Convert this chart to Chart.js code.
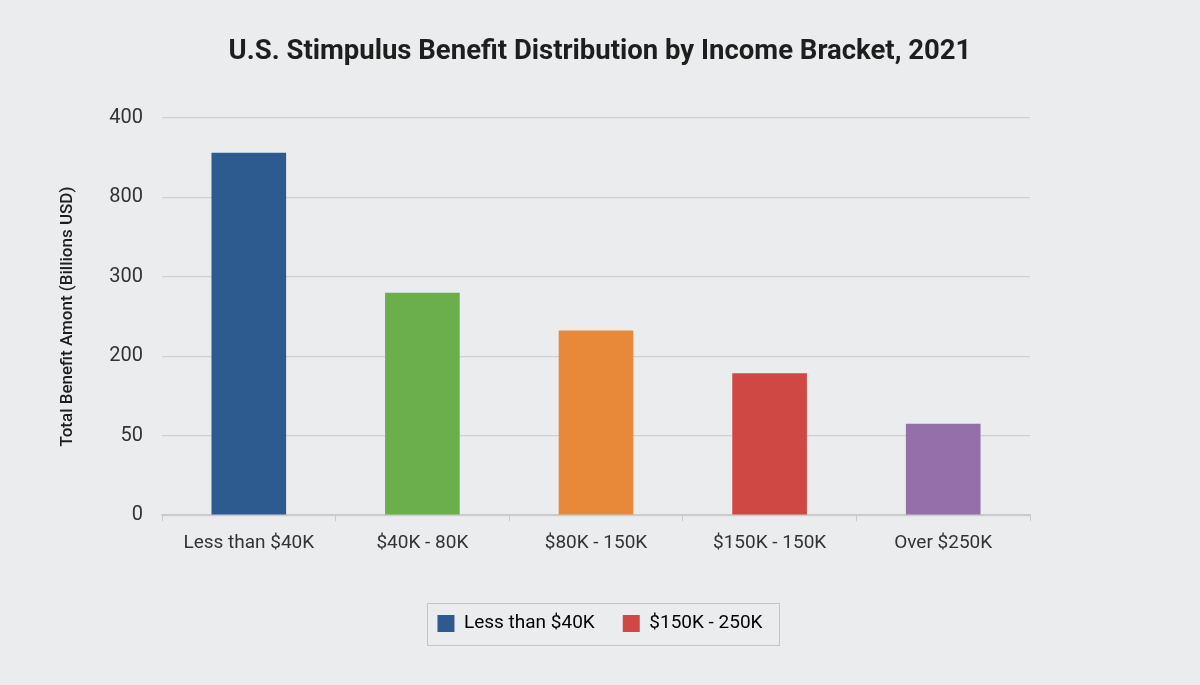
<!DOCTYPE html>
<html>
<head>
<meta charset="utf-8">
<script src="https://cdn.jsdelivr.net/npm/chart.js@4/dist/chart.umd.min.js"></script>
<style>
  html, body { margin: 0; padding: 0; background: #ebeced; }
  #wrap { width: 1200px; height: 685px; }
</style>
</head>
<body>
<div id="wrap"><canvas id="chart" width="1200" height="685"></canvas></div>
<script>
// data (bar heights in axis px-units, 80 per gridline)
const categories = ['Less than $40K', '$40K - 80K', '$80K - 150K', '$150K - 150K', 'Over $250K'];
const benefitValues = [365, 224, 186, 143, 92];
const barColors = ['#2e5b8f', '#6aaf4b', '#e8893a', '#d04844', '#9470a8'];
const yTickLabels = ['0', '50', '200', '300', '800', '400'];
const legendNames = ['Less than $40K', '$150K - 250K'];
const legendColors = ['#2e5b8f', '#d04844'];

// thin grey frame round the legend items
const legendBox = {
  id: 'legendBox',
  afterDraw(chart) {
    const boxes = chart.legend?.legendHitBoxes;
    if (!boxes || !boxes.length) return;
    const first = boxes[0], last = boxes[boxes.length - 1];
    const left = Math.round(first.left - 10) + 0.5;
    const right = Math.round(last.left + last.width + 16) + 0.5;
    const mid = first.top + first.height / 2;
    const ctx = chart.ctx;
    ctx.save();
    ctx.strokeStyle = '#c4c5c7';
    ctx.lineWidth = 1;
    ctx.strokeRect(left, Math.round(mid - 21) + 0.5, right - left, 42);
    ctx.restore();
  }
};

new Chart(document.getElementById('chart'), {
  type: 'bar',
  data: {
    labels: categories,
    datasets: [{
      data: benefitValues,
      backgroundColor: barColors,
      borderWidth: 0,
      barPercentage: 0.43,
      categoryPercentage: 1
    }]
  },
  options: {
    responsive: false,
    animation: false,
    layout: { padding: { left: 0, right: 0, top: 0, bottom: 42 } },
    scales: {
      y: {
        min: 0,
        max: 400,
        afterFit: s => { s.width = 162; },
        ticks: {
          stepSize: 80,
          padding: 19,
          color: '#333',
          font: { family: 'Roboto', size: 20 },
          callback: (v, i) => yTickLabels[i]
        },
        grid: { color: '#cfd0d2', lineWidth: 1.2, drawTicks: false },
        border: { display: false },
        title: {
          display: true,
          text: 'Total Benefit Amont (Billions USD)',
          color: '#1e1e1e',
          font: { family: 'Roboto', size: 17, weight: '500' },
          padding: { top: 58, bottom: 0 }
        }
      },
      yRight: {
        type: 'linear',
        position: 'right',
        afterFit: s => { s.width = 170; },
        ticks: { display: false },
        grid: { display: false },
        border: { display: false }
      },
      x: {
        afterFit: s => { s.height += 20; },
        ticks: {
          color: '#333',
          font: { family: 'Roboto', size: 19 },
          padding: 11
        },
        grid: { display: true, drawOnChartArea: false, color: '#c8c9cb', tickLength: 6, offset: true },
        border: { color: '#c8c9cb', width: 1.5 }
      }
    },
    plugins: {
      title: {
        display: true,
        text: 'U.S. Stimpulus Benefit Distribution by Income Bracket, 2021',
        color: '#1e1e1e',
        font: { family: 'Roboto', size: 27.5, weight: 'bold' },
        padding: { top: 36, bottom: 49 }
      },
      legend: {
        position: 'bottom',
        labels: {
          boxWidth: 17,
          boxHeight: 17,
          padding: 28,
          color: '#222',
          font: { family: 'Roboto', size: 19 },
          generateLabels: () => legendNames.map((n, i) => ({
            text: n,
            fillStyle: legendColors[i],
            strokeStyle: legendColors[i],
            lineWidth: 0,
            hidden: false,
            index: i
          }))
        },
        onClick: () => {}
      },
      tooltip: { enabled: false }
    }
  },
  plugins: [legendBox]
});
</script>
</body>
</html>
